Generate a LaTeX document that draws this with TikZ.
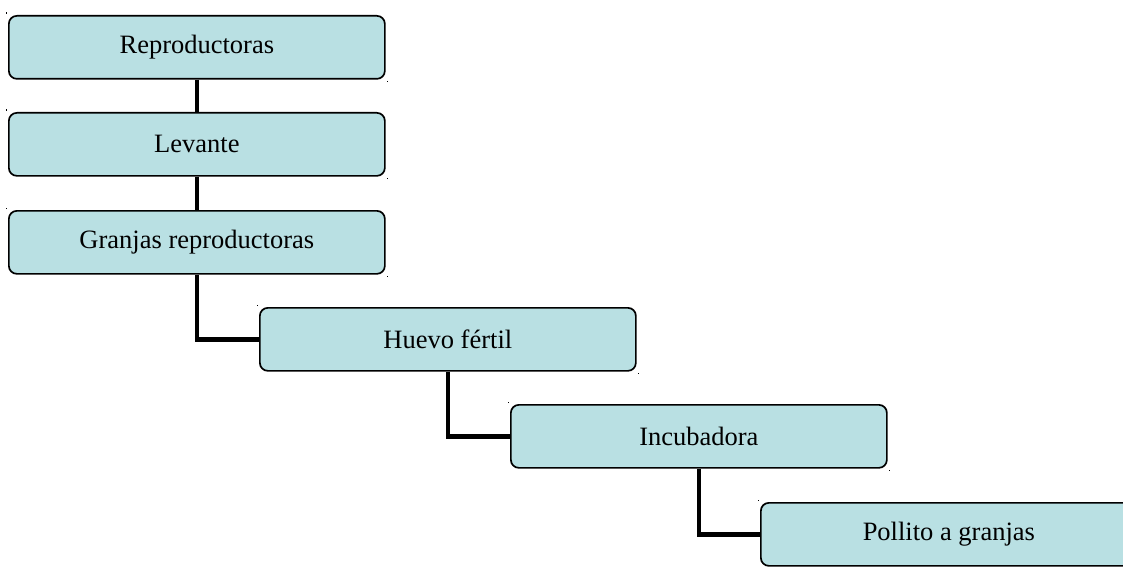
\documentclass[tikz,border=0pt]{standalone}
\usepackage{fontspec}
\setmainfont{Liberation Serif}
\begin{document}
\begin{tikzpicture}[x=1pt,y=-1pt,
  stagebox/.style={draw=black, line width=1.7pt, fill=boxfill, rounded corners=8pt,
    minimum width=376pt, minimum height=63pt, inner sep=0pt, anchor=north west,
    font=\fontsize{26.5}{30}\selectfont},
  link/.style={line width=4.5pt, line cap=butt, line join=miter},
  tick/.style={fill=black}]
\definecolor{boxfill}{RGB}{185,224,227}
\useasboundingbox (0,0) rectangle (1123,567);
\clip (0,0) rectangle (1123,567);

\node[stagebox] (b1) at (8,15)  {Reproductoras};
\node[stagebox] (b2) at (8,112) {Levante};
\node[stagebox] (b3) at (8,210) {Granjas reproductoras};
\node[stagebox] (b4) at (259,307) {Huevo fértil};
\node[stagebox] (b5) at (510,404) {Incubadora};
\node[stagebox] (b6) at (760,502) {Pollito a granjas};

% small corner marks
\foreach \b in {b1,b2,b3,b4,b5,b6}{
  \fill[tick] ([shift={(-2.5,-2.5)}]\b.north west) rectangle ++(1.5,1.5);
  \fill[tick] ([shift={(1,1)}]\b.south east) rectangle ++(1.5,1.5);
}

% connectors
\draw[link] (b1.south) -- (b2.north);
\draw[link] (b2.south) -- (b3.north);
\draw[link] (b3.south) |- (b4.west);
\draw[link] (b4.south) |- (b5.west);
\draw[link] (b5.south) |- (b6.west);
\end{tikzpicture}
\end{document}
